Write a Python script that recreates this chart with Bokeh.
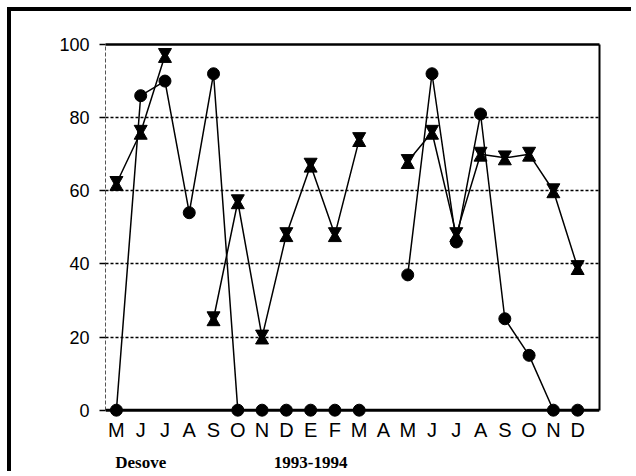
import numpy as np
from bokeh.plotting import figure
from bokeh.models import (ColumnDataSource, FixedTicker, LinearAxis, Span, Range1d)
from bokeh.transform import dodge
from bokeh.embed import file_html
from bokeh.resources import INLINE

nan = np.nan

# ---- data ----
months = ["M", "J", "J", "A", "S", "O", "N", "D", "E", "F",
          "M", "A", "M", "J", "J", "A", "S", "O", "N", "D"]
circle_vals = [0, 86, 90, 54, 92, 0, 0, 0, 0, 0,
               0, nan, 37, 92, 46, 81, 25, 15, 0, 0]
hourglass_vals = [62, 76, 97, nan, 25, 57, 20, 48, 67, 48,
                  74, nan, 68, 76, 48, 70, 69, 70, 60, 39]
y_ticks = [0, 20, 40, 60, 80, 100]
grid_ticks = [20, 40, 60, 80]
season_label = "Desove"
period_label = "1993-1994"

x_idx = list(range(len(months)))
src = ColumnDataSource(data=dict(
    x=x_idx,
    circ=np.array(circle_vals, dtype=float),
    hg=np.array(hourglass_vals, dtype=float),
))

p = figure(width=624, height=464,
           x_range=Range1d(-0.45, 19.9), y_range=Range1d(-2, 100),
           output_backend="svg", toolbar_location=None,
           min_border_left=94, min_border_top=33,
           min_border_right=36, min_border_bottom=58)
p.outline_line_color = None
p.background_fill_color = "white"
p.border_fill_color = "white"
p.styles = {"margin-left": "7px", "margin-top": "7px",
            "border-left": "4px solid black", "border-top": "4px solid black"}

# x axis (month letters)
xa = p.xaxis[0]
xa.ticker = FixedTicker(ticks=x_idx)
xa.major_label_overrides = {i: m for i, m in enumerate(months)}
xa.axis_line_color = None
xa.major_tick_line_color = None
xa.major_tick_out = 0
xa.major_tick_in = 0
xa.minor_tick_line_color = None
xa.major_label_text_font = "Liberation Sans"
xa.major_label_text_font_size = "20px"
xa.major_label_text_color = "black"
xa.major_label_standoff = 1

# footer texts as a second, tick-less axis below the months
foot = LinearAxis(ticker=FixedTicker(ticks=[1, 8]),
                  major_label_overrides={1: season_label, 8: period_label},
                  axis_line_color=None, major_tick_line_color=None,
                  minor_tick_line_color=None, major_tick_out=0, major_tick_in=0,
                  major_label_standoff=9,
                  major_label_text_font="Liberation Serif",
                  major_label_text_font_style="bold",
                  major_label_text_font_size="17px",
                  major_label_text_color="black")
p.add_layout(foot, "below")

# y axis
ya = p.yaxis[0]
ya.ticker = FixedTicker(ticks=y_ticks)
ya.bounds = (0, 100)
ya.axis_line_color = "#555555"
ya.axis_line_width = 1
ya.axis_line_dash = "4 2"
ya.major_tick_out = 6
ya.major_tick_in = 0
ya.major_tick_line_color = "black"
ya.major_tick_line_width = 1.5
ya.minor_tick_line_color = None
ya.major_label_text_font = "Liberation Sans"
ya.major_label_text_font_size = "18px"
ya.major_label_text_color = "black"
ya.major_label_standoff = 10

# grid
p.xgrid.visible = False
p.ygrid.ticker = FixedTicker(ticks=grid_ticks)
p.ygrid.grid_line_color = "black"
p.ygrid.grid_line_dash = "3 2"
p.ygrid.grid_line_width = 1.5

# top and right frame lines
top = LinearAxis(ticker=FixedTicker(ticks=[]), axis_line_color="black",
                 axis_line_width=2.5, major_tick_line_color=None,
                 minor_tick_line_color=None, major_label_text_font_size="0px")
p.add_layout(top, "above")
right = LinearAxis(ticker=FixedTicker(ticks=[]), bounds=(0, 100),
                   axis_line_color="black", axis_line_width=2,
                   major_tick_line_color=None, minor_tick_line_color=None,
                   major_label_text_font_size="0px")
p.add_layout(right, "right")

# zero baseline
p.add_layout(Span(location=0, dimension="width", line_color="black", line_width=3))

# series lines
p.line("x", "circ", source=src, line_color="black", line_width=1.5)
p.line("x", "hg", source=src, line_color="black", line_width=1.5)

# markers
p.scatter("x", "circ", source=src, marker="circle", size=12,
          fill_color="black", line_color="black")
p.scatter("x", dodge("hg", 0.87, range=p.y_range), source=src,
          marker="inverted_triangle", size=13, fill_color="black", line_color="black")
p.scatter("x", dodge("hg", -0.87, range=p.y_range), source=src,
          marker="triangle", size=13, fill_color="black", line_color="black")

open("out.html", "w").write(file_html(p, INLINE))
